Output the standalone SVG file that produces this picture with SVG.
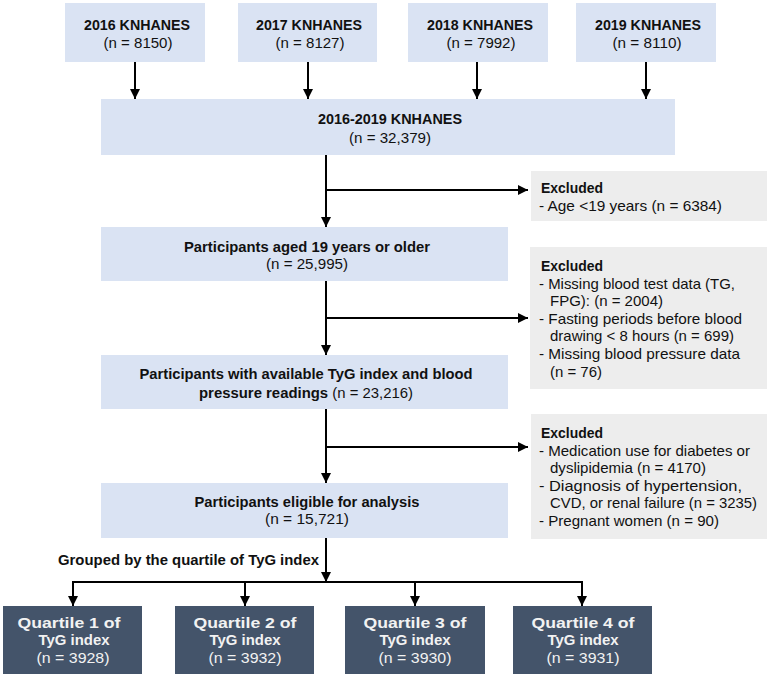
<svg xmlns="http://www.w3.org/2000/svg" width="767" height="680" viewBox="0 0 767 680">
<style>
.lb{fill:#DAE3F3}
.gb{fill:#EDEDED}
.db{fill:#44546A}
text{font-family:"Liberation Sans",Arial,sans-serif;font-size:15px;fill:#111}
.b{font-weight:bold}
.c{text-anchor:middle}
.w{fill:#F2F2F2}
.ln{stroke:#000;stroke-width:2;fill:none}
</style>
<defs>
<marker id="ah" viewBox="0 0 10 10" refX="10" refY="5" markerWidth="5" markerHeight="5" markerUnits="strokeWidth" orient="auto">
<path d="M0,0 L10,5 L0,10 z" fill="#000"/>
</marker>
</defs>
<rect width="767" height="680" fill="#fff"/>

<g id="y2016"><rect class="lb" x="65" y="3" width="140" height="59"/>
<text class="b c" x="137" y="30" textLength="106" lengthAdjust="spacingAndGlyphs">2016 KNHANES</text>
<text class="c" x="138" y="48" textLength="69" lengthAdjust="spacingAndGlyphs">(n = 8150)</text></g>
<g id="y2017"><rect class="lb" x="238" y="3" width="139" height="59"/>
<text class="b c" x="309" y="30" textLength="106" lengthAdjust="spacingAndGlyphs">2017 KNHANES</text>
<text class="c" x="310" y="48" textLength="69" lengthAdjust="spacingAndGlyphs">(n = 8127)</text></g>
<g id="y2018"><rect class="lb" x="408" y="3" width="140" height="59"/>
<text class="b c" x="480" y="30" textLength="106" lengthAdjust="spacingAndGlyphs">2018 KNHANES</text>
<text class="c" x="481" y="48" textLength="69" lengthAdjust="spacingAndGlyphs">(n = 7992)</text></g>
<g id="y2019"><rect class="lb" x="576" y="3" width="140" height="59"/>
<text class="b c" x="648" y="30" textLength="106" lengthAdjust="spacingAndGlyphs">2019 KNHANES</text>
<text class="c" x="647" y="48" textLength="69" lengthAdjust="spacingAndGlyphs">(n = 8110)</text></g>

<g id="total"><rect class="lb" x="101" y="99" width="574" height="56"/>
<text class="b c" x="390" y="124" textLength="144" lengthAdjust="spacingAndGlyphs">2016-2019 KNHANES</text>
<text class="c" x="390" y="143" textLength="82" lengthAdjust="spacingAndGlyphs">(n = 32,379)</text></g>

<g id="excl1"><rect class="gb" x="531" y="171" width="236" height="50"/>
<text class="b" x="541" y="193" textLength="62" lengthAdjust="spacingAndGlyphs">Excluded</text>
<text x="539" y="211" textLength="183" lengthAdjust="spacingAndGlyphs">-  Age &lt;19 years (n = 6384)</text></g>

<g id="adults"><rect class="lb" x="101" y="227" width="407" height="54"/>
<text class="b c" x="307" y="252" textLength="246" lengthAdjust="spacingAndGlyphs">Participants aged 19 years or older</text>
<text class="c" x="307" y="269" textLength="82" lengthAdjust="spacingAndGlyphs">(n = 25,995)</text></g>

<g id="excl2"><rect class="gb" x="530" y="247" width="237" height="142"/>
<text class="b" x="541" y="271" textLength="62" lengthAdjust="spacingAndGlyphs">Excluded</text>
<text x="539" y="289" textLength="196" lengthAdjust="spacingAndGlyphs">-  Missing blood test data (TG,</text>
<text x="550" y="306" textLength="113" lengthAdjust="spacingAndGlyphs">FPG): (n = 2004)</text>
<text x="539" y="324" textLength="203" lengthAdjust="spacingAndGlyphs">-  Fasting periods before blood</text>
<text x="550" y="341" textLength="184" lengthAdjust="spacingAndGlyphs">drawing &lt; 8 hours (n = 699)</text>
<text x="539" y="359" textLength="201" lengthAdjust="spacingAndGlyphs">-  Missing blood pressure data</text>
<text x="550" y="377" textLength="52" lengthAdjust="spacingAndGlyphs">(n = 76)</text></g>

<g id="available"><rect class="lb" x="101" y="355" width="407" height="54"/>
<text class="b c" x="306" y="379" textLength="333" lengthAdjust="spacingAndGlyphs">Participants with available TyG index and blood</text>
<text x="199" y="398" textLength="214" lengthAdjust="spacingAndGlyphs"><tspan class="b">pressure readings</tspan> (n = 23,216)</text></g>

<g id="excl3"><rect class="gb" x="531" y="414" width="236" height="125"/>
<text class="b" x="541" y="438" textLength="62" lengthAdjust="spacingAndGlyphs">Excluded</text>
<text x="539" y="456" textLength="211" lengthAdjust="spacingAndGlyphs">-  Medication use for diabetes or</text>
<text x="550" y="473" textLength="156" lengthAdjust="spacingAndGlyphs">dyslipidemia (n = 4170)</text>
<text x="539" y="491" textLength="203" lengthAdjust="spacingAndGlyphs">-  Diagnosis of hypertension,</text>
<text x="550" y="508" textLength="207" lengthAdjust="spacingAndGlyphs">CVD, or renal failure (n = 3235)</text>
<text x="539" y="526" textLength="180" lengthAdjust="spacingAndGlyphs">-  Pregnant women (n = 90)</text></g>

<g id="eligible"><rect class="lb" x="101" y="483" width="407" height="55"/>
<text class="b c" x="307" y="507" textLength="225" lengthAdjust="spacingAndGlyphs">Participants eligible for analysis</text>
<text class="c" x="307" y="524" textLength="84" lengthAdjust="spacingAndGlyphs">(n = 15,721)</text></g>

<text class="b" x="58" y="565" textLength="261" lengthAdjust="spacingAndGlyphs">Grouped by the quartile of TyG index</text>

<g id="q1"><rect class="db" x="3" y="606" width="139" height="68"/>
<text class="b c w" x="69" y="628" textLength="103" lengthAdjust="spacingAndGlyphs">Quartile 1 of</text>
<text class="b c w" x="74" y="645" textLength="71" lengthAdjust="spacingAndGlyphs">TyG index</text>
<text class="c w" x="73" y="663" textLength="73" lengthAdjust="spacingAndGlyphs">(n = 3928)</text></g>
<g id="q2"><rect class="db" x="175" y="606" width="139" height="68"/>
<text class="b c w" x="245" y="628" textLength="103" lengthAdjust="spacingAndGlyphs">Quartile 2 of</text>
<text class="b c w" x="245" y="645" textLength="71" lengthAdjust="spacingAndGlyphs">TyG index</text>
<text class="c w" x="245" y="663" textLength="73" lengthAdjust="spacingAndGlyphs">(n = 3932)</text></g>
<g id="q3"><rect class="db" x="345" y="606" width="140" height="68"/>
<text class="b c w" x="415" y="628" textLength="103" lengthAdjust="spacingAndGlyphs">Quartile 3 of</text>
<text class="b c w" x="415" y="645" textLength="71" lengthAdjust="spacingAndGlyphs">TyG index</text>
<text class="c w" x="415" y="663" textLength="73" lengthAdjust="spacingAndGlyphs">(n = 3930)</text></g>
<g id="q4"><rect class="db" x="513" y="606" width="139" height="68"/>
<text class="b c w" x="583" y="628" textLength="103" lengthAdjust="spacingAndGlyphs">Quartile 4 of</text>
<text class="b c w" x="583" y="645" textLength="71" lengthAdjust="spacingAndGlyphs">TyG index</text>
<text class="c w" x="583" y="663" textLength="73" lengthAdjust="spacingAndGlyphs">(n = 3931)</text></g>

<g id="connectors" class="ln">
<line x1="135" y1="62" x2="135" y2="99" marker-end="url(#ah)"/>
<line x1="308" y1="62" x2="308" y2="99" marker-end="url(#ah)"/>
<line x1="477" y1="62" x2="477" y2="99" marker-end="url(#ah)"/>
<line x1="646" y1="62" x2="646" y2="99" marker-end="url(#ah)"/>
<line x1="326" y1="155" x2="326" y2="227" marker-end="url(#ah)"/>
<line x1="326" y1="190" x2="528" y2="190" marker-end="url(#ah)"/>
<line x1="326" y1="281" x2="326" y2="355" marker-end="url(#ah)"/>
<line x1="326" y1="318" x2="528" y2="318" marker-end="url(#ah)"/>
<line x1="326" y1="409" x2="326" y2="483" marker-end="url(#ah)"/>
<line x1="326" y1="447" x2="528" y2="447" marker-end="url(#ah)"/>
<line x1="326" y1="538" x2="326" y2="582" marker-end="url(#ah)"/>
<line x1="73" y1="582" x2="582" y2="582"/>
<line x1="73" y1="581" x2="73" y2="606" marker-end="url(#ah)"/>
<line x1="245" y1="582" x2="245" y2="606" marker-end="url(#ah)"/>
<line x1="415" y1="582" x2="415" y2="606" marker-end="url(#ah)"/>
<line x1="582" y1="581" x2="582" y2="606" marker-end="url(#ah)"/>
</g>
</svg>
